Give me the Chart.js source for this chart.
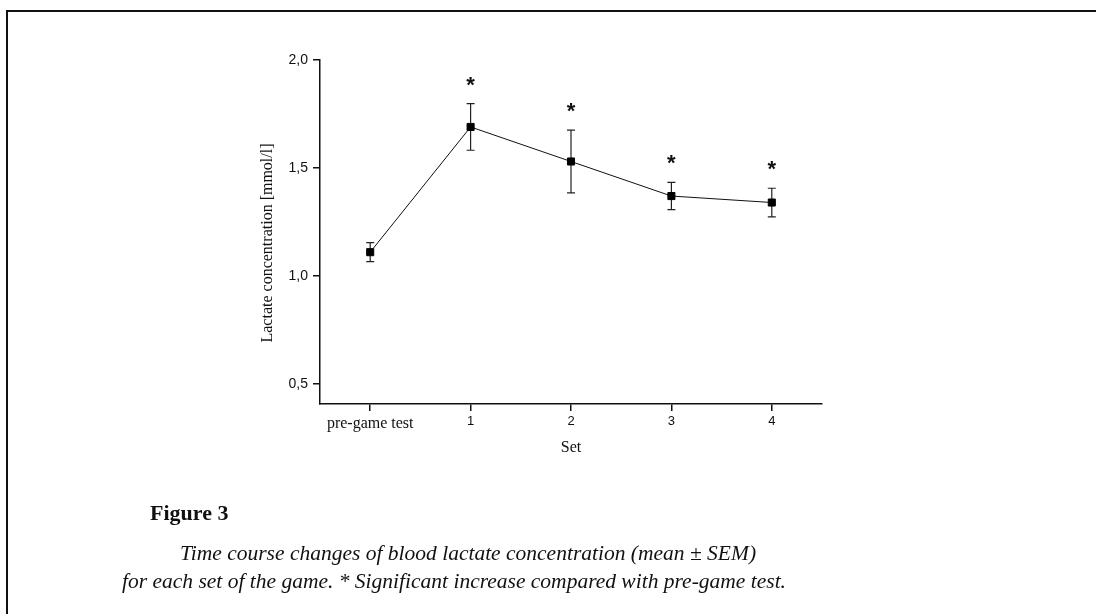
<!DOCTYPE html>
<html>
<head>
<meta charset="utf-8">
<script src="https://cdn.jsdelivr.net/npm/chart.js@4/dist/chart.umd.min.js"></script>
<style>
  html, body { margin: 0; padding: 0; background: #fff; }
  body { width: 1096px; height: 614px; position: relative; overflow: hidden; }
  #frame {
    position: absolute; left: 6px; top: 10px; width: 1200px; height: 700px;
    border-left: 2px solid #111; border-top: 2px solid #111;
  }
  #chart { position: absolute; left: 0; top: 0; }
  .fig-title {
    position: absolute; left: 150px; top: 502px;
    font: bold 22px "Liberation Serif", serif; line-height: 1; color: #111;
  }
  .caption {
    position: absolute;
    font: italic 21.5px "Liberation Serif", serif; line-height: 1; color: #111;
    white-space: nowrap;
  }
</style>
</head>
<body>
<div id="frame"></div>
<canvas id="chart" width="1096" height="614"></canvas>
<div class="fig-title">Figure 3</div>
<div class="caption" style="left:180px; top:543px">Time course changes of blood lactate concentration (mean ± SEM)</div>
<div class="caption" style="left:122px; top:571px">for each set of the game. * Significant increase compared with pre-game test.</div>

<script>
// ── lactate time course: mean ± SEM per set ─────────────────────────────
const categories   = ['pre-game test', '1', '2', '3', '4'];
const xTickValues  = [0, 1, 2, 3, 4];
const lactateMean  = [1.11, 1.69, 1.53, 1.37, 1.34];
const lactateSem   = [0.044, 0.108, 0.145, 0.063, 0.066];
const significant  = [false, true, true, true, true];
const yTickValues  = [0.5, 1.0, 1.5, 2.0];

const INK = '#111';
const SANS = '"Liberation Sans", Arial, sans-serif';
const SERIF = '"Liberation Serif", "Times New Roman", serif';

const points = lactateMean.map((m, i) => ({ x: xTickValues[i], y: m }));

// error bars drawn under the markers
const errorBars = {
    id: 'errorBars',
    beforeDatasetsDraw(chart) {
        const { ctx, scales: { x, y } } = chart;
        ctx.save();
        ctx.strokeStyle = '#222';
        ctx.lineWidth = 1.2;
        lactateMean.forEach((m, i) => {
            const px = x.getPixelForValue(xTickValues[i]);
            const top = y.getPixelForValue(m + lactateSem[i]);
            const bot = y.getPixelForValue(m - lactateSem[i]);
            ctx.beginPath();
            ctx.moveTo(px, top); ctx.lineTo(px, bot);
            ctx.moveTo(px - 4, top); ctx.lineTo(px + 4, top);
            ctx.moveTo(px - 4, bot); ctx.lineTo(px + 4, bot);
            ctx.stroke();
        });
        ctx.restore();
    }
};

// significance asterisks + rotated y title
const annotations = {
    id: 'annotations',
    afterDraw(chart) {
        const { ctx, chartArea, scales: { x, y } } = chart;
        ctx.save();
        ctx.fillStyle = INK;
        ctx.font = 'bold 22px ' + SANS;
        ctx.textAlign = 'center';
        ctx.textBaseline = 'alphabetic';
        lactateMean.forEach((m, i) => {
            if (!significant[i]) return;
            const px = x.getPixelForValue(xTickValues[i]);
            const top = y.getPixelForValue(m + lactateSem[i]);
            ctx.fillText('*', px, top - 12);
        });

        ctx.font = '16px ' + SERIF;
        ctx.textBaseline = 'middle';
        ctx.translate(chartArea.left - 52, (chartArea.top + chartArea.bottom) / 2 + 11);
        ctx.rotate(-Math.PI / 2);
        ctx.fillText('Lactate concentration [mmol/l]', 0, 0);
        ctx.restore();
    }
};

new Chart(document.getElementById('chart'), {
    type: 'line',
    data: {
        datasets: [{
            data: points,
            borderColor: INK,
            borderWidth: 1,
            pointStyle: 'rect',
            pointRadius: 5,
            pointBackgroundColor: '#000',
            pointBorderColor: '#000',
            pointBorderWidth: 1,
            tension: 0
        }]
    },
    options: {
        responsive: false,
        animation: false,
        devicePixelRatio: 1,
        layout: { padding: { left: 258, right: 274, top: 60, bottom: 157 } },
        plugins: { legend: { display: false }, tooltip: { enabled: false } },
        scales: {
            x: {
                type: 'linear',
                min: -0.5,
                max: 4.5,
                afterBuildTicks: s => { s.ticks = xTickValues.map(v => ({ value: v })); },
                afterFit: s => { s.height = 53; s.paddingLeft = 0; s.paddingRight = 0; },
                border: { display: true, color: INK, width: 1.5 },
                grid: { drawOnChartArea: false, drawTicks: true, tickLength: 7, color: INK, lineWidth: 1.5 },
                ticks: {
                    color: INK,
                    padding: 3,
                    maxRotation: 0,
                    callback: v => categories[xTickValues.indexOf(v)],
                    font: c => c.index === 0 ? { family: SERIF, size: 16 } : { family: SANS, size: 13 }
                },
                title: { display: true, text: 'Set', color: INK, padding: 0, font: { family: SERIF, size: 16 } }
            },
            y: {
                min: 0.407,
                max: 2.0,
                afterBuildTicks: s => { s.ticks = yTickValues.map(v => ({ value: v })); },
                afterFit: s => { s.width = 62; s.paddingTop = 0; s.paddingBottom = 0; },
                border: { display: true, color: INK, width: 1.5 },
                grid: { drawOnChartArea: false, drawTicks: true, tickLength: 7, color: INK, lineWidth: 1.5 },
                ticks: {
                    color: INK,
                    padding: 5,
                    font: { family: SANS, size: 14 },
                    callback: v => v.toFixed(1).replace('.', ',')
                }
            }
        }
    },
    plugins: [errorBars, annotations]
});
</script>
</body>
</html>
